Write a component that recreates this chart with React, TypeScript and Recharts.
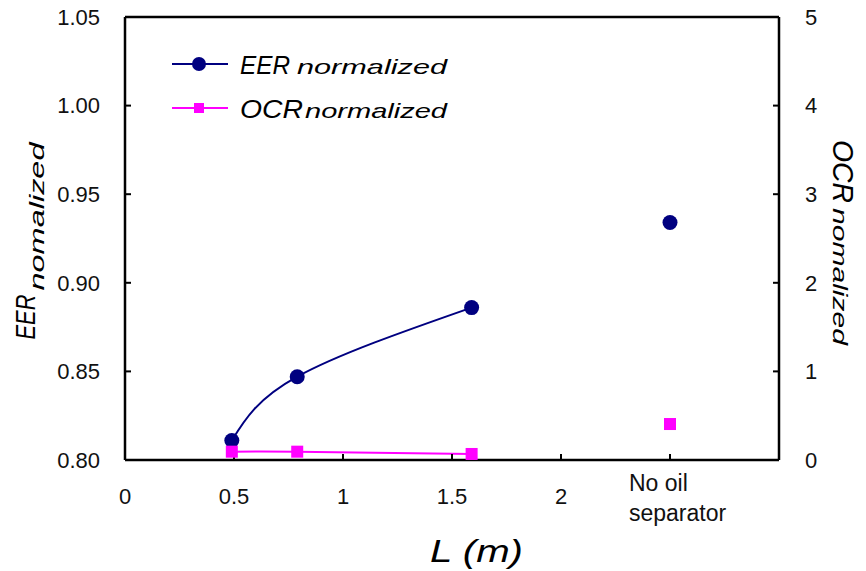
import {
  ComposedChart,
  Label,
  Legend,
  Line,
  ReferenceLine,
  XAxis,
  YAxis,
} from "recharts";

// pipe length L (m) and the normalized results
const lengths = [0.49, 0.79, 1.59];
const eerValues = [0.811, 0.847, 0.886];
const ocrValues = [0.094, 0.094, 0.068];

// "No oil separator" case, drawn as lone markers
const noSeparatorX = 2.5;
const eerNoSeparator = 0.934;
const ocrNoSeparator = 0.406;

const xTicks = [0, 0.5, 1, 1.5, 2, 2.5];
const eerTicks = [0.8, 0.85, 0.9, 0.95, 1.0, 1.05];
const ocrTicks = [0, 1, 2, 3, 4, 5];

const legendMain = ["EER", "OCR"];
const legendSub = "normalized";

const NAVY = "#000080";
const MAGENTA = "#ff00ff";
const FONT = "'Liberation Sans', Arial, sans-serif";

const data = [
  ...lengths.map((x, i) => ({ x, eer: eerValues[i], ocr: ocrValues[i] })),
  { x: noSeparatorX, eerSep: eerNoSeparator, ocrSep: ocrNoSeparator },
];

function CircleDot(props: any) {
  const { cx, cy, index } = props;
  if (cx == null || cy == null) return <g key={`c${index}`} />;
  return <circle key={`c${index}`} cx={cx} cy={cy} r={7.5} fill={NAVY} />;
}

function SquareDot(props: any) {
  const { cx, cy, index } = props;
  if (cx == null || cy == null) return <g key={`s${index}`} />;
  return (
    <rect key={`s${index}`} x={cx - 6} y={cy - 6} width={12} height={12} fill={MAGENTA} />
  );
}

function XTick({ x, y, payload }: any) {
  if (payload.value === noSeparatorX) {
    return (
      <g fontFamily={FONT} fontSize={23} fill="#111">
        <text x={x - 41} y={y - 13}>No oil</text>
        <text x={x - 41} y={y + 17}>separator</text>
      </g>
    );
  }
  return (
    <text x={x} y={y} textAnchor="middle" fontFamily={FONT} fontSize={22} fill="#111">
      {payload.value}
    </text>
  );
}

function LeftTitle({ viewBox }: any) {
  const bx = viewBox.x + 35;
  const cy = viewBox.y + viewBox.height / 2;
  const a = cy + 101;
  const b = cy + 52;
  return (
    <g fontFamily={FONT} fontStyle="italic" fill="#000">
      <text x={bx} y={a} transform={`rotate(-90 ${bx} ${a})`} fontSize={28} textLength={45} lengthAdjust="spacingAndGlyphs">
        EER
      </text>
      <text x={bx + 9} y={b} transform={`rotate(-90 ${bx + 9} ${b})`} fontSize={20} textLength={148} lengthAdjust="spacingAndGlyphs">
        nomalized
      </text>
    </g>
  );
}

function RightTitle({ viewBox }: any) {
  const bx = viewBox.x + 54;
  const top = viewBox.y + 123;
  const b = top + 68;
  return (
    <g fontFamily={FONT} fontStyle="italic" fill="#000">
      <text x={bx} y={top} transform={`rotate(90 ${bx} ${top})`} fontSize={29} textLength={63} lengthAdjust="spacingAndGlyphs">
        OCR
      </text>
      <text x={bx} y={b} transform={`rotate(90 ${bx} ${b})`} fontSize={20} textLength={137} lengthAdjust="spacingAndGlyphs">
        nomalized
      </text>
    </g>
  );
}

function BottomTitle({ viewBox }: any) {
  const x = viewBox.x + 305;
  const y = viewBox.y + 102;
  return (
    <text x={x} y={y} fontFamily={FONT} fontStyle="italic" fontSize={31} textLength={93} lengthAdjust="spacingAndGlyphs" fill="#000">
      L (m)
    </text>
  );
}

function ChartLegend({ payload }: any) {
  const items = (payload || []).filter((p: any) => p.type !== "none");
  return (
    <svg width={300} height={90} style={{ overflow: "visible" }}>
      {items.map((entry: any, i: number) => {
        const y = 24 + i * 44;
        const main = legendMain[i];
        const mainLen = i === 0 ? 50 : 63;
        return (
          <g key={entry.value}>
            <line x1={12} x2={68} y1={y} y2={y} stroke={entry.color} strokeWidth={2} />
            {i === 0 ? (
              <circle cx={39} cy={y} r={7} fill={entry.color} />
            ) : (
              <rect x={34} y={y - 5} width={10} height={10} fill={entry.color} />
            )}
            <text x={80} y={y + 10} fontFamily={FONT} fontStyle="italic" fontSize={26} textLength={mainLen} lengthAdjust="spacingAndGlyphs" fill="#000">
              {main}
            </text>
            <text x={80 + mainLen + (i === 0 ? 7 : 2)} y={y + 10} fontFamily={FONT} fontStyle="italic" fontSize={21} textLength={i === 0 ? 150 : 142} lengthAdjust="spacingAndGlyphs" fill="#000">
              {legendSub}
            </text>
          </g>
        );
      })}
    </svg>
  );
}

export default function App() {
  return (
    <div style={{ position: "absolute", left: 0, top: 0, background: "#fff" }}>
      <ComposedChart
        width={866}
        height={571}
        data={data}
        margin={{ top: 17, right: 0, bottom: 0, left: 0 }}
      >
        <XAxis
          dataKey="x"
          type="number"
          domain={[0, 3]}
          ticks={xTicks}
          height={111}
          axisLine={{ stroke: "#000", strokeWidth: 2.5 }}
          tickLine={{ stroke: "#000", strokeWidth: 2 }}
          tickSize={-6}
          tickMargin={50}
          tick={<XTick />}
          interval={0}
        >
          <Label content={<BottomTitle />} />
        </XAxis>
        <YAxis
          yAxisId="left"
          domain={[0.8, 1.05]}
          ticks={eerTicks}
          width={125}
          axisLine={{ stroke: "#000", strokeWidth: 2.5 }}
          tickLine={{ stroke: "#000", strokeWidth: 2 }}
          tickSize={-6}
          tickMargin={31}
          tickFormatter={(v: number) => v.toFixed(2)}
          tick={{ fill: "#111", fontSize: 22, fontFamily: FONT }}
          interval={0}
        >
          <Label content={<LeftTitle />} />
        </YAxis>
        <YAxis
          yAxisId="right"
          orientation="right"
          domain={[0, 5]}
          ticks={ocrTicks}
          width={87}
          axisLine={{ stroke: "#000", strokeWidth: 2.5 }}
          tickLine={{ stroke: "#000", strokeWidth: 2 }}
          tickSize={-6}
          tickMargin={32}
          tick={{ fill: "#111", fontSize: 22, fontFamily: FONT }}
          interval={0}
        >
          <Label content={<RightTitle />} />
        </YAxis>
        <ReferenceLine yAxisId="left" y={1.05} stroke="#000" strokeWidth={2.5} />
        <Legend
          layout="horizontal"
          verticalAlign="middle"
          align="center"
          wrapperStyle={{ left: 160, top: 40, width: 300, height: 90 }}
          content={<ChartLegend />}
        />
        <Line
          yAxisId="left"
          dataKey="eer"
          name="EER normalized"
          type="natural"
          stroke={NAVY}
          strokeWidth={2}
          dot={<CircleDot />}
          activeDot={false}
          isAnimationActive={false}
        />
        <Line
          yAxisId="right"
          dataKey="ocr"
          name="OCR normalized"
          type="natural"
          stroke={MAGENTA}
          strokeWidth={2}
          dot={<SquareDot />}
          activeDot={false}
          isAnimationActive={false}
        />
        <Line
          yAxisId="left"
          dataKey="eerSep"
          stroke="none"
          legendType="none"
          dot={<CircleDot />}
          activeDot={false}
          isAnimationActive={false}
        />
        <Line
          yAxisId="right"
          dataKey="ocrSep"
          stroke="none"
          legendType="none"
          dot={<SquareDot />}
          activeDot={false}
          isAnimationActive={false}
        />
      </ComposedChart>
    </div>
  );
}
